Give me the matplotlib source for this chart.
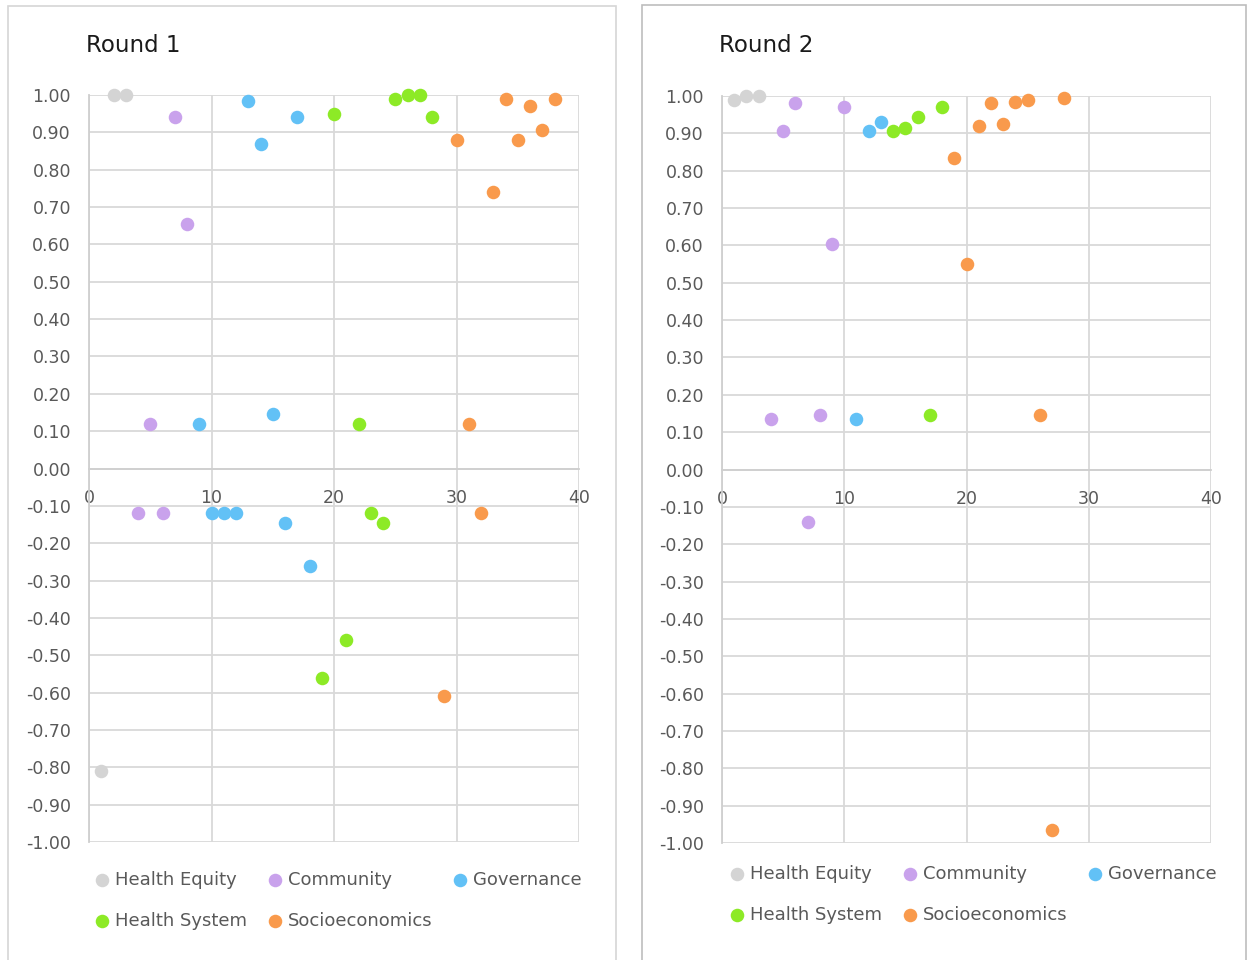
import matplotlib
matplotlib.use("Agg")
import matplotlib.pyplot as plt
from matplotlib.patches import Rectangle
from matplotlib.ticker import FormatStrFormatter, MultipleLocator

plt.rcParams["font.family"] = ["DejaVu Sans"]
plt.rcParams["axes.unicode_minus"] = False

CATEGORIES = ["Health Equity", "Community", "Governance", "Health System", "Socioeconomics"]
COLORS = ["#D4D4D4", "#C9A2EC", "#62C1F6", "#8DEA26", "#F99A4C"]

# --- Round 1: item number and agreement value per category ---
r1_x = {
    "Health Equity": [1, 2, 3],
    "Community": [4, 5, 6, 7, 8],
    "Governance": [9, 10, 11, 12, 13, 14, 15, 16, 17, 18],
    "Health System": [19, 20, 21, 22, 23, 24, 25, 26, 27, 28],
    "Socioeconomics": [29, 30, 31, 32, 33, 34, 35, 36, 37, 38],
}
r1_y = {
    "Health Equity": [-0.81, 1.00, 1.00],
    "Community": [-0.12, 0.12, -0.12, 0.94, 0.655],
    "Governance": [0.12, -0.12, -0.12, -0.12, 0.985, 0.87, 0.145, -0.145, 0.94, -0.26],
    "Health System": [-0.56, 0.95, -0.46, 0.12, -0.12, -0.145, 0.99, 1.00, 1.00, 0.94],
    "Socioeconomics": [-0.61, 0.88, 0.12, -0.12, 0.74, 0.99, 0.88, 0.97, 0.905, 0.99],
}

# --- Round 2 ---
r2_x = {
    "Health Equity": [1, 2, 3],
    "Community": [4, 5, 6, 7, 8, 9, 10],
    "Governance": [11, 12, 13],
    "Health System": [14, 15, 16, 17, 18],
    "Socioeconomics": [19, 20, 21, 22, 23, 24, 25, 26, 27, 28],
}
r2_y = {
    "Health Equity": [0.99, 1.00, 1.00],
    "Community": [0.135, 0.905, 0.98, -0.14, 0.145, 0.605, 0.97],
    "Governance": [0.135, 0.905, 0.93],
    "Health System": [0.905, 0.915, 0.945, 0.145, 0.97],
    "Socioeconomics": [0.835, 0.55, 0.92, 0.98, 0.925, 0.985, 0.99, 0.145, -0.965, 0.995],
}

W, H = 1247, 960
GRID = "#D9D9D9"
TXT = "#595959"


def px(x0, y_top, w, h):
    return [x0 / W, (H - y_top - h) / H, w / W, h / H]


def panel(fig, rect, frame, title_xy, title, xs, ys, leg_anchor):
    # card border
    fig.patches.append(Rectangle((frame[0] / W, -0.01), (frame[1] - frame[0]) / W,
                                 (H - frame[2]) / H + 0.01, transform=fig.transFigure,
                                 fill=False, edgecolor=frame[3], linewidth=1.2))
    fig.text(title_xy[0] / W, 1 - title_xy[1] / H, title, fontsize=16.5, color="#1a1a1a",
             va="center", ha="left")

    ax = fig.add_axes(rect)
    handles = {}
    for cat, col in zip(CATEGORIES, COLORS):
        handles[cat] = ax.scatter(xs[cat], ys[cat], s=95, color=col, label=cat,
                                  linewidths=0, zorder=3, clip_on=False)
    ax.set_xlim(0, 40)
    ax.set_ylim(-1, 1)
    ax.xaxis.set_major_locator(MultipleLocator(10))
    ax.yaxis.set_major_locator(MultipleLocator(0.1))
    ax.yaxis.set_major_formatter(FormatStrFormatter("%.2f"))
    ax.grid(True, color=GRID, linewidth=1.3, zorder=0)
    ax.set_axisbelow(True)
    for s in ("top", "right"):
        ax.spines[s].set_visible(False)
    ax.spines["bottom"].set_position(("data", 0))
    for s in ("bottom", "left"):
        ax.spines[s].set_color("#CFCFCF")
        ax.spines[s].set_linewidth(1.3)
    ax.tick_params(axis="both", length=0, labelsize=12.5, labelcolor=TXT)
    ax.tick_params(axis="x", pad=15)
    ax.tick_params(axis="y", pad=13)

    # row-major order like the original: column filling needs this shuffle
    order = ["Health Equity", "Health System", "Community", "Socioeconomics", "Governance"]
    fig.legend([handles[c] for c in order], order, ncol=3, loc="upper left",
               bbox_to_anchor=(leg_anchor[0] / W, 1 - leg_anchor[1] / H), frameon=False,
               fontsize=13, labelcolor=TXT, handlelength=0.7, handletextpad=0.35,
               columnspacing=1.2, labelspacing=1.25, borderpad=0, borderaxespad=0,
               scatterpoints=1)
    return ax


fig = plt.figure(figsize=(W / 100, H / 100), dpi=100)
fig.patch.set_facecolor("white")

panel(fig, px(89, 95, 490, 747), (8, 616, 6, "#D6D6D6"), (86, 45), "Round 1",
      r1_x, r1_y, (96, 871))
panel(fig, px(722, 96, 489, 747), (642, 1246, 5, "#BDBDBD"), (719, 45), "Round 2",
      r2_x, r2_y, (731, 865))

fig.savefig("out.png", dpi=100, facecolor="white")
